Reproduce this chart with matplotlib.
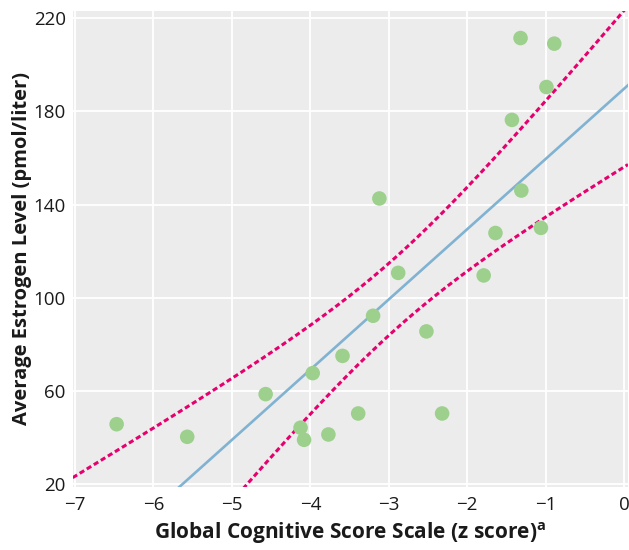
import numpy as np
import matplotlib
matplotlib.use("Agg")
import matplotlib.pyplot as plt

# Data
cognitive_z = [-6.47, -5.57, -4.57, -4.125, -4.08, -3.97, -3.77, -3.59, -3.39, -3.20, -3.12,
               -2.88, -2.52, -2.32, -1.79, -1.64, -1.43, -1.31, -1.32, -1.06, -0.99, -0.89]
estrogen = [45.8, 40.4, 58.7, 44.3, 39.1, 67.7, 41.4, 75.1, 50.4, 92.3, 142.6,
            110.7, 85.6, 50.4, 109.6, 127.8, 176.3, 146.0, 211.4, 130.0, 190.4, 209.0]
x_ticks = [-7, -6, -5, -4, -3, -2, -1, 0]
y_ticks = [20, 60, 100, 140, 180, 220]
t_crit = 2.086  # 95%, df = 20

x = np.array(cognitive_z)
y = np.array(estrogen)
n = len(x)
slope, intercept = np.polyfit(x, y, 1)
resid = y - (slope * x + intercept)
s = np.sqrt(np.sum(resid ** 2) / (n - 2))
xm = x.mean()
sxx = np.sum((x - xm) ** 2)

xs = np.linspace(-7.03, 0.05, 300)
fit = slope * xs + intercept
hw = t_crit * s * np.sqrt(1.0 / n + (xs - xm) ** 2 / sxx)

plt.rcParams['font.family'] = ['Open Sans', 'DejaVu Sans']

fig = plt.figure(figsize=(6.29, 5.5), dpi=100)
ax = fig.add_axes([72.7 / 629, 1 - 486.7 / 550, (628 - 72.7) / 629, (486.7 - 11) / 550])
ax.set_facecolor('#ececec')
for sp in ax.spines.values():
    sp.set_visible(False)
ax.grid(True, color='white', linewidth=1.3)
ax.set_axisbelow(True)

ax.plot(xs, fit, color='#80b2d2', linewidth=1.9, zorder=3)
ax.plot(xs, fit + hw, color='#e5006e', linewidth=2.2, dashes=(1.7, 1.0), zorder=3)
ax.plot(xs, fit - hw, color='#e5006e', linewidth=2.2, dashes=(1.7, 1.0), zorder=3)
ax.scatter(x, y, s=110, color='#9dd08d', edgecolors='none', zorder=4)

ax.set_xlim(-7.03, 0.05)
ax.set_ylim(19, 223)
ax.set_xticks(x_ticks)
ax.set_yticks(y_ticks)
ax.set_xticklabels(['\u2212%d' % abs(v) if v < 0 else '%d' % v for v in x_ticks])
ax.set_yticklabels([str(v) for v in y_ticks])
ax.tick_params(length=0, labelsize=13.5, colors='#1a1a1a')
ax.tick_params(axis='x', pad=7)
ax.tick_params(axis='y', pad=5)

ax.set_xlabel('Global Cognitive Score Scale (z score)$^{\\mathregular{a}}$', fontsize=15,
              fontweight='bold', labelpad=4, color='#1a1a1a')
ax.set_ylabel('Average Estrogen Level (pmol/liter)', fontsize=14.5, fontweight='bold',
              labelpad=1, color='#1a1a1a')

fig.savefig('out.png', dpi=100)
